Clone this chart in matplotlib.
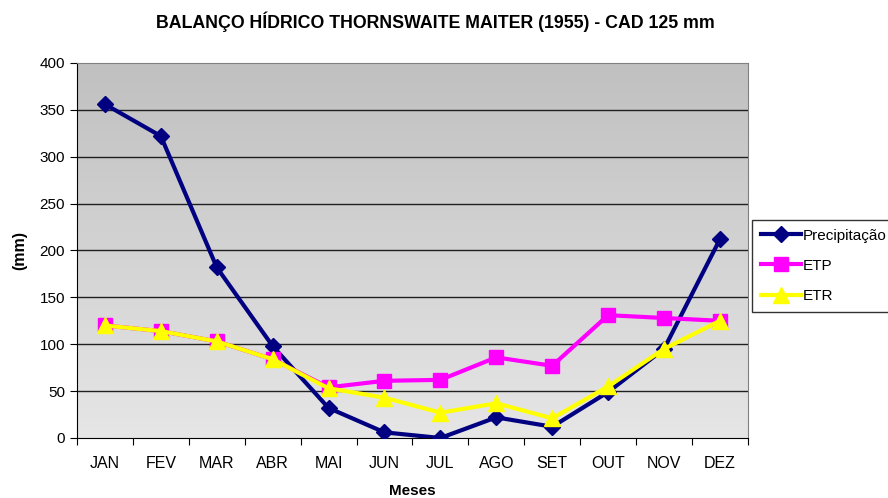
import numpy as np
import matplotlib
matplotlib.use("Agg")
import matplotlib.pyplot as plt

meses = ['JAN', 'FEV', 'MAR', 'ABR', 'MAI', 'JUN', 'JUL', 'AGO', 'SET', 'OUT', 'NOV', 'DEZ']
precipitacao = [356, 322, 182, 98, 32, 6, 0, 22, 12, 49, 95, 212]
etp = [120, 114, 103, 84, 54, 61, 62, 86, 77, 131, 128, 125]
etr = [120, 114, 103, 84, 53, 43, 27, 37, 21, 55, 95, 125]

plt.rcParams['font.family'] = 'Liberation Sans'

fig = plt.figure(figsize=(8.88, 4.98), dpi=100)
ax = fig.add_axes([0.0867, 0.1205, 0.7555, 0.753])

x = np.arange(len(meses))

# gradient background (dark on top, lighter at bottom)
grad = np.linspace(0, 1, 256).reshape(-1, 1)
ax.imshow(grad, aspect='auto', cmap=matplotlib.colors.LinearSegmentedColormap.from_list(
    'g', ['#c0c0c0', '#e6e6e6']), extent=[0, 1, 0, 1], transform=ax.transAxes,
    zorder=0, origin='upper')

for v in range(50, 400, 50):
    ax.axhline(v, color='#202020', lw=1.0, zorder=1)

ax.plot(x, precipitacao, color='#000080', lw=3, marker='D', ms=8, label='Precipitação', zorder=3)
ax.plot(x, etp, color='#ff00ff', lw=3, marker='s', ms=10, label='ETP', zorder=4)
ax.plot(x, etr, color='#ffff00', lw=3, marker='^', ms=11, label='ETR', zorder=5)

ax.set_xlim(-0.5, 11.5)
ax.set_ylim(0, 400)
ax.set_yticks(range(0, 401, 50))
ax.set_xticks(np.arange(-0.5, 12, 1))
ax.set_xticklabels([])
ax.set_xticks(x, minor=True)
ax.set_xticklabels(meses, minor=True)
ax.tick_params(axis='x', which='minor', length=0, labelsize=11.5, pad=13)
ax.tick_params(axis='x', which='major', direction='out', length=5)
ax.tick_params(axis='y', direction='out', length=5, labelsize=11)

for s in ['top', 'right']:
    ax.spines[s].set_color('#808080')
for s in ['left', 'bottom']:
    ax.spines[s].set_color('black')

ax.set_xlabel('Meses', fontweight='bold', fontsize=11, labelpad=9)
ax.set_ylabel('(mm)', fontweight='bold', fontsize=11.5, labelpad=9)
fig.text(0.49, 0.956, 'BALANÇO HÍDRICO THORNSWAITE MAITER (1955) - CAD 125 mm',
         fontweight='bold', fontsize=12.8, ha='center', va='center')

leg = fig.legend(loc='upper left', bbox_to_anchor=(0.847, 0.559), fontsize=11,
                 frameon=True, fancybox=False, edgecolor='black', handlelength=2.6,
                 borderaxespad=0, labelspacing=1.05, handletextpad=0.1,
                 borderpad=0.6)
leg.get_frame().set_linewidth(1.0)

fig.savefig('out.png', dpi=100, facecolor='white')
